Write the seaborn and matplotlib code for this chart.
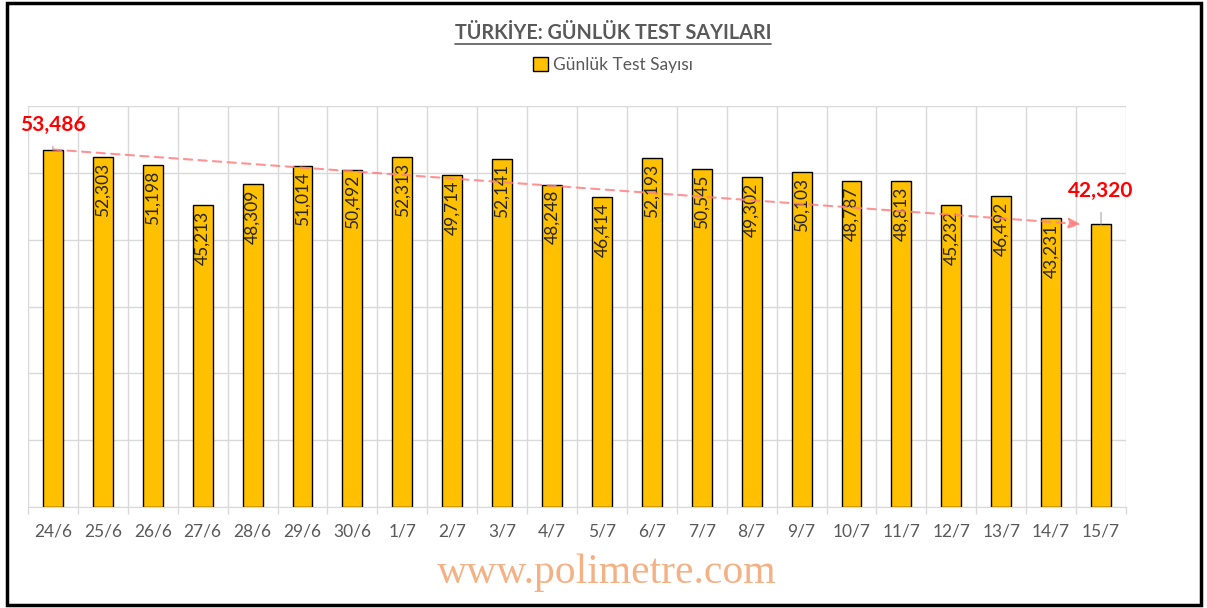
import matplotlib
matplotlib.use("Agg")
import matplotlib.pyplot as plt
import seaborn as sns
from matplotlib.patches import Rectangle
from matplotlib.lines import Line2D

# ========== Data ========== #
dates = ["24/6", "25/6", "26/6", "27/6", "28/6", "29/6", "30/6", "1/7", "2/7", "3/7", "4/7",
         "5/7", "6/7", "7/7", "8/7", "9/7", "10/7", "11/7", "12/7", "13/7", "14/7", "15/7"]
tests = [53486, 52303, 51198, 45213, 48309, 51014, 50492, 52313, 49714, 52141, 48248,
         46414, 52193, 50545, 49302, 50103, 48787, 48813, 45232, 46492, 43231, 42320]
y_ticks = [0, 10000, 20000, 30000, 40000, 50000, 60000]

sns.set_style("white")
plt.rcParams["font.family"] = ["Lato", "DejaVu Sans"]

fig = plt.figure(figsize=(12.07, 6.08), dpi=100)
ax = fig.add_axes([28 / 1207, 1 - 507 / 608, 1098 / 1207, 401 / 608])

# ========== Bars ========== #
sns.barplot(x=dates, y=tests, color="#FFC000", edgecolor="black", linewidth=1.0,
            width=0.4, ax=ax, label="Günlük Test Sayısı", saturation=1)

# values inside bars (first/last get red callouts instead)
for i, v in enumerate(tests):
    if i in (0, len(tests) - 1):
        continue
    ax.annotate(f"{v:,}", xy=(i, v), xytext=(0, -4), textcoords="offset points",
                rotation=90, ha="center", va="top", fontsize=12.5, color="#262626")

for i in (0, len(tests) - 1):
    off = 18 if i == 0 else 24
    ax.annotate(f"{tests[i]:,}", xy=(i, tests[i]), xytext=(0, off), textcoords="offset points",
                ha="center", va="center", fontsize=15, fontweight="bold", color="#FF0000",
                arrowprops=dict(arrowstyle="-", color="#A6A6A6", lw=0.8, shrinkA=6, shrinkB=0))

# trend arrow from first to last bar
ax.annotate("", xy=(len(tests) - 1 - 0.4, tests[-1]), xytext=(0, tests[0]),
            arrowprops=dict(arrowstyle="-|>,head_length=0.7,head_width=0.3", color="#FF8080",
                            lw=1.5, linestyle=(0, (4, 3)), alpha=0.85, shrinkA=0, shrinkB=0))

# ========== Axes styling ========== #
ax.set_xlim(-0.5, len(tests) - 0.5)
ax.set_ylim(0, 60000)
ax.set_yticks(y_ticks)
ax.set_yticklabels([])
ax.set_xticks(range(len(dates)))
ax.set_xticklabels(dates)
ax.set_xticks([i - 0.5 for i in range(len(dates) + 1)], minor=True)
ax.tick_params(axis="x", which="major", length=0, pad=12, labelsize=12.5, labelcolor="#595959")
ax.tick_params(axis="x", which="minor", length=5, width=1, color="#D9D9D9", direction="out",
               bottom=True)
ax.tick_params(axis="y", length=0)
ax.grid(True, axis="y", which="major", color="#D9D9D9", lw=1)
ax.grid(True, axis="x", which="minor", color="#D9D9D9", lw=1)
ax.set_axisbelow(True)
for s in ["left", "right", "top"]:
    ax.spines[s].set_visible(False)
ax.spines["bottom"].set_color("#D9D9D9")
ax.set_xlabel("")
ax.set_ylabel("")

# ========== Title, legend, watermark ========== #
title = fig.text(0.508, 1 - 33 / 608, "TÜRKİYE: GÜNLÜK TEST SAYILARI", ha="center", va="center",
                 fontsize=14.2, fontweight="bold", color="#595959")
ax.legend(loc="center", bbox_to_anchor=(0.508, 1 - 65 / 608), bbox_transform=fig.transFigure,
          frameon=False, fontsize=12.5, handlelength=0.85, handleheight=0.85, handletextpad=0.3,
          labelcolor="#595959")
fig.text(0.503, 1 - 573 / 608, "www.polimetre.com", ha="center", va="center",
         fontsize=30, family="Liberation Serif", color="#F4B183")

# underline the title
fig.canvas.draw()
bb = title.get_window_extent().transformed(fig.transFigure.inverted())
fig.add_artist(Line2D([bb.x0, bb.x1], [bb.y0 - 0.002, bb.y0 - 0.002], transform=fig.transFigure,
                      color="#595959", lw=1.2))

# outer frame
fig.add_artist(Rectangle((7 / 1207, 3 / 608), 1194 / 1207, 602 / 608, transform=fig.transFigure,
                         fill=False, edgecolor="black", lw=2.5))

fig.savefig("out.png", dpi=100)
